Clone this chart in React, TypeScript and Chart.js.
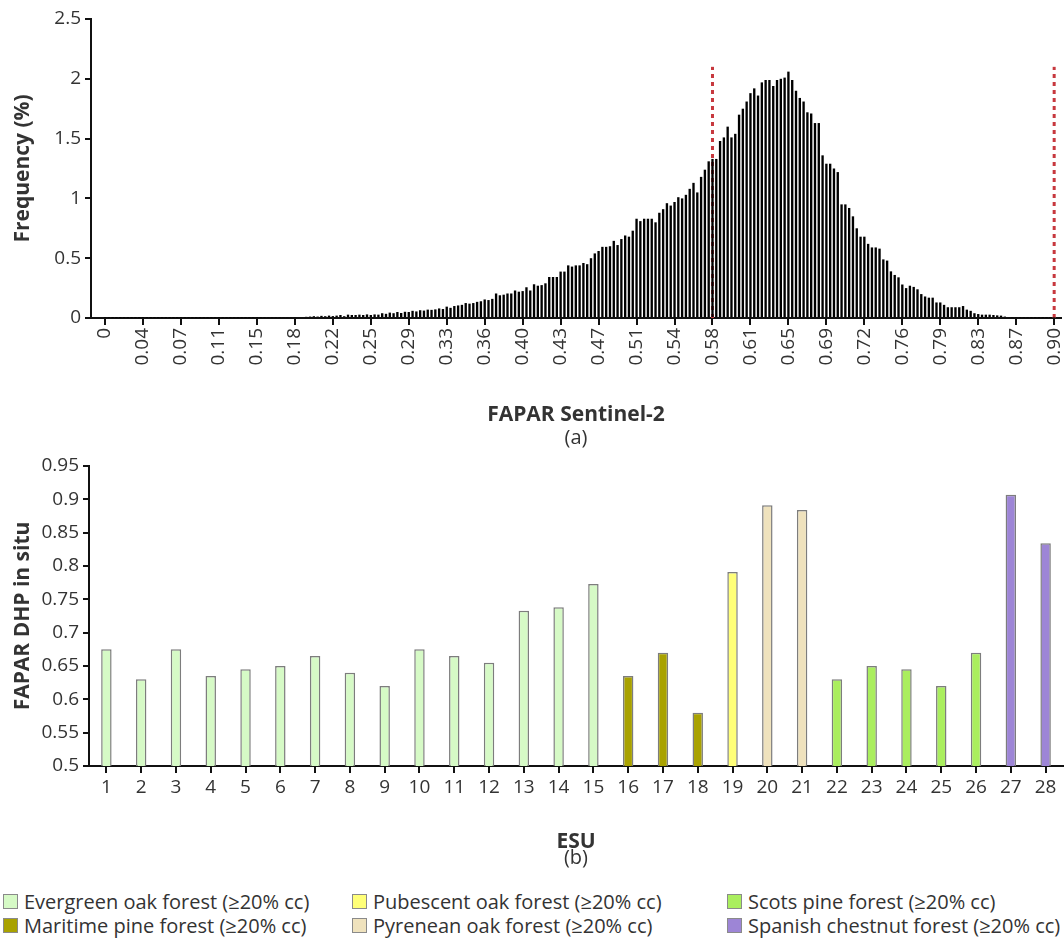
import React, { useEffect, useRef } from "react";
import { Chart, registerables } from "chart.js";

Chart.register(...registerables);

// ---------- (a) histogram of Sentinel-2 FAPAR ----------
const histTickLabels = [
  "0", "0.04", "0.07", "0.11", "0.15", "0.18", "0.22", "0.25", "0.29", "0.33",
  "0.36", "0.40", "0.43", "0.47", "0.51", "0.54", "0.58", "0.61", "0.65", "0.69",
  "0.72", "0.76", "0.79", "0.83", "0.87", "0.90",
];
const binsPerTick = 10;

// frequency (%) of each FAPAR bin (251 bins, 0 .. 0.90)
const histFrequency = [
  0.002, 0.002, 0.002, 0.002, 0.002, 0.002, 0.002, 0.002, 0.002, 0.002,
  0.002, 0.002, 0.002, 0.002, 0.002, 0.002, 0.002, 0.002, 0.002, 0.002,
  0.003, 0.003, 0.003, 0.003, 0.003, 0.003, 0.003, 0.003, 0.003, 0.003,
  0.003, 0.003, 0.003, 0.003, 0.003, 0.003, 0.003, 0.003, 0.003, 0.003,
  0.004, 0.004, 0.004, 0.005, 0.005, 0.005, 0.005, 0.006, 0.006, 0.006,
  0.006, 0.008, 0.008, 0.010, 0.012, 0.015, 0.012, 0.018, 0.015, 0.020,
  0.016, 0.020, 0.025, 0.015, 0.028, 0.025, 0.025, 0.028, 0.025, 0.030,
  0.025, 0.030, 0.028, 0.040, 0.035, 0.045, 0.040, 0.050, 0.042, 0.052,
  0.050, 0.060, 0.055, 0.065, 0.062, 0.070, 0.068, 0.072, 0.080, 0.075,
  0.095, 0.085, 0.100, 0.105, 0.110, 0.125, 0.120, 0.125, 0.135, 0.140,
  0.155, 0.150, 0.160, 0.205, 0.190, 0.195, 0.205, 0.205, 0.230, 0.220,
  0.225, 0.257, 0.230, 0.282, 0.270, 0.275, 0.290, 0.343, 0.343, 0.343,
  0.388, 0.388, 0.440, 0.430, 0.440, 0.440, 0.460, 0.450, 0.500, 0.540,
  0.560, 0.595, 0.595, 0.600, 0.645, 0.610, 0.660, 0.690, 0.680, 0.730,
  0.830, 0.810, 0.830, 0.830, 0.830, 0.800, 0.880, 0.910, 0.960, 0.940,
  0.970, 1.010, 1.000, 1.030, 1.080, 1.130, 1.050, 1.180, 1.240, 1.310,
  1.330, 1.330, 1.480, 1.510, 1.600, 1.510, 1.540, 1.700, 1.750, 1.810,
  1.880, 1.920, 1.860, 1.970, 1.990, 1.990, 1.940, 1.990, 2.000, 2.010,
  2.060, 1.990, 1.900, 1.840, 1.810, 1.720, 1.710, 1.630, 1.630, 1.360,
  1.290, 1.290, 1.250, 1.220, 0.950, 0.950, 0.920, 0.850, 0.750, 0.680,
  0.680, 0.620, 0.590, 0.590, 0.580, 0.490, 0.480, 0.390, 0.360, 0.340,
  0.280, 0.250, 0.270, 0.260, 0.240, 0.200, 0.180, 0.170, 0.170, 0.130,
  0.130, 0.110, 0.090, 0.090, 0.090, 0.090, 0.100, 0.070, 0.060, 0.040,
  0.033, 0.028, 0.028, 0.028, 0.025, 0.022, 0.020, 0.012, 0.008, 0.005,
  0.005, 0.004, 0.004, 0.004, 0.003, 0.003, 0.003, 0.003, 0.003, 0.003, 0.003,
];

// red dotted limits (bin index of FAPAR 0.58 and 0.90) and their top value
const limitBins = [160, 250];
const limitTop = 2.1;

// ---------- (b) in-situ FAPAR per ESU ----------
const esuLabels = [
  "1", "2", "3", "4", "5", "6", "7", "8", "9", "10", "11", "12", "13", "14",
  "15", "16", "17", "18", "19", "20", "21", "22", "23", "24", "25", "26", "27", "28",
];
const faparDhp = [
  0.675, 0.63, 0.675, 0.635, 0.645, 0.65, 0.665, 0.64, 0.62, 0.675, 0.665, 0.655,
  0.733, 0.738, 0.773, 0.635, 0.67, 0.58, 0.791, 0.891, 0.884, 0.63, 0.65, 0.645,
  0.62, 0.67, 0.907, 0.834,
];
// forest type index of each ESU
const esuForest = [
  0, 0, 0, 0, 0, 0, 0, 0, 0, 0, 0, 0, 0, 0, 0, 1, 1, 1, 2, 3, 3, 4, 4, 4, 4, 4, 5, 5,
];
const forestNames = [
  "Evergreen oak forest (≥20% cc)",
  "Maritime pine forest (≥20% cc)",
  "Pubescent oak forest (≥20% cc)",
  "Pyrenean oak forest (≥20% cc)",
  "Scots pine forest (≥20% cc)",
  "Spanish chestnut forest (≥20% cc)",
];
const forestColors = ["#d6fac6", "#a9a200", "#ffff78", "#efe2bd", "#aaee5e", "#9d85d6"];

const FONT = "'Open Sans', 'DejaVu Sans', sans-serif";
const TEXT = "#333333";
const AXIS = "#111111";

const fmt = (v: any) => String(+Number(v).toFixed(2));

export default function App() {
  const topRef = useRef<HTMLCanvasElement | null>(null);
  const botRef = useRef<HTMLCanvasElement | null>(null);

  useEffect(() => {
    const tickFont = { family: FONT, size: 19 };
    const titleFont = { family: FONT, size: 21, weight: "bold" as const };

    const top = new Chart(topRef.current as HTMLCanvasElement, {
      type: "bar",
      data: {
        datasets: [
          {
            type: "bar",
            data: histFrequency.map((y, i) => ({ x: i, y })),
            backgroundColor: "#000000",
            borderWidth: 0,
            barPercentage: 0.62,
            categoryPercentage: 1,
          } as any,
          ...limitBins.map((b) => ({
            type: "line",
            data: [
              { x: b, y: 0 },
              { x: b, y: limitTop },
            ],
            borderColor: "#c7383e",
            borderWidth: 3,
            borderDash: [4, 4],
            pointRadius: 0,
            fill: false,
          })) as any,
        ],
      },
      options: {
        animation: false,
        responsive: false,
        maintainAspectRatio: false,
        layout: { padding: { top: 19, right: 3, left: 0, bottom: 0 } },
        plugins: { legend: { display: false }, tooltip: { enabled: false } },
        scales: {
          x: {
            type: "linear",
            offset: false,
            min: -3.7,
            max: 251.8,
            afterBuildTicks: (s: any) => {
              s.ticks = histTickLabels.map((_, k) => ({ value: k * binsPerTick }));
            },
            afterFit: (s: any) => {
              s.height = 110;
              s.paddingLeft = 0;
              s.paddingRight = 0;
            },
            ticks: {
              autoSkip: false,
              maxRotation: 90,
              minRotation: 90,
              padding: 3,
              color: TEXT,
              font: tickFont,
              callback: (v: any) => histTickLabels[Math.round(Number(v) / binsPerTick)] ?? "",
            },
            grid: { drawOnChartArea: false, tickLength: 7, color: AXIS, lineWidth: 2, offset: false },
            border: { color: AXIS, width: 2 },
            title: {
              display: true,
              text: "FAPAR Sentinel-2",
              color: TEXT,
              font: titleFont,
              padding: { top: 0, bottom: 0 },
            },
          },
          y: {
            min: 0,
            max: 2.5,
            afterFit: (s: any) => {
              s.width = 91;
            },
            ticks: { stepSize: 0.5, color: TEXT, font: tickFont, padding: 4, callback: fmt },
            grid: { drawOnChartArea: false, tickLength: 6, color: AXIS, lineWidth: 2 },
            border: { color: AXIS, width: 2 },
            title: {
              display: true,
              text: "Frequency (%)",
              color: TEXT,
              font: titleFont,
              padding: { top: 10, bottom: 0 },
            },
          },
        },
      } as any,
    });

    const bot = new Chart(botRef.current as HTMLCanvasElement, {
      type: "bar",
      data: {
        labels: esuLabels,
        datasets: [
          {
            data: faparDhp,
            backgroundColor: esuForest.map((k) => forestColors[k]),
            borderColor: "#7d7d7d",
            borderWidth: 1.5,
            barPercentage: 0.3,
            categoryPercentage: 1,
          },
        ],
      },
      options: {
        animation: false,
        responsive: false,
        maintainAspectRatio: false,
        layout: { padding: { top: 16, right: 1, left: 0, bottom: 0 } },
        plugins: { legend: { display: false }, tooltip: { enabled: false } },
        scales: {
          x: {
            afterFit: (s: any) => {
              s.height = 89;
              s.paddingLeft = 0;
              s.paddingRight = 0;
            },
            ticks: { color: TEXT, font: tickFont, padding: 3, maxRotation: 0, autoSkip: false },
            grid: { drawOnChartArea: false, tickLength: 7, color: AXIS, lineWidth: 2, offset: false },
            border: { color: AXIS, width: 2 },
            title: {
              display: true,
              text: "ESU",
              color: TEXT,
              font: titleFont,
              padding: { top: 0, bottom: 0 },
            },
          },
          y: {
            min: 0.5,
            max: 0.95,
            afterFit: (s: any) => {
              s.width = 89;
            },
            ticks: { stepSize: 0.05, color: TEXT, font: tickFont, padding: 4, callback: fmt },
            grid: { drawOnChartArea: false, tickLength: 6, color: AXIS, lineWidth: 2 },
            border: { color: AXIS, width: 2 },
            title: {
              display: true,
              text: "FAPAR DHP in situ",
              color: TEXT,
              font: titleFont,
              padding: { top: 10, bottom: 0 },
            },
          },
        },
      } as any,
    });

    return () => {
      top.destroy();
      bot.destroy();
    };
  }, []);

  const caption: React.CSSProperties = {
    position: "absolute",
    left: 91,
    width: 970,
    textAlign: "center",
    fontFamily: FONT,
    fontSize: 20,
    lineHeight: "24px",
    color: TEXT,
  };

  return (
    <div
      style={{
        position: "fixed",
        left: 0,
        top: 0,
        width: 1064,
        height: 944,
        background: "#ffffff",
        overflow: "hidden",
      }}
    >
      <canvas
        ref={topRef}
        width={1064}
        height={428}
        style={{ position: "absolute", left: 0, top: 0, width: 1064, height: 428 }}
      />
      <div style={{ ...caption, top: 425 }}>(a)</div>
      <canvas
        ref={botRef}
        width={1064}
        height={405}
        style={{ position: "absolute", left: 0, top: 450, width: 1064, height: 405 }}
      />
      <div style={{ ...caption, top: 845 }}>(b)</div>
      <div
        style={{
          position: "absolute",
          left: 3,
          top: 889,
          display: "grid",
          gridTemplateRows: "24px 24px",
          gridTemplateColumns: "349px 375px 337px",
          gridAutoFlow: "column",
          fontFamily: FONT,
          fontSize: 20,
          color: TEXT,
        }}
      >
        {forestNames.map((name, k) => (
          <div key={name} style={{ display: "flex", alignItems: "center", whiteSpace: "nowrap" }}>
            <span
              style={{
                display: "inline-block",
                width: 13,
                height: 13,
                background: forestColors[k],
                border: "1px solid #8a8a8a",
                marginRight: 6,
                flex: "none",
              }}
            />
            {name}
          </div>
        ))}
      </div>
    </div>
  );
}
